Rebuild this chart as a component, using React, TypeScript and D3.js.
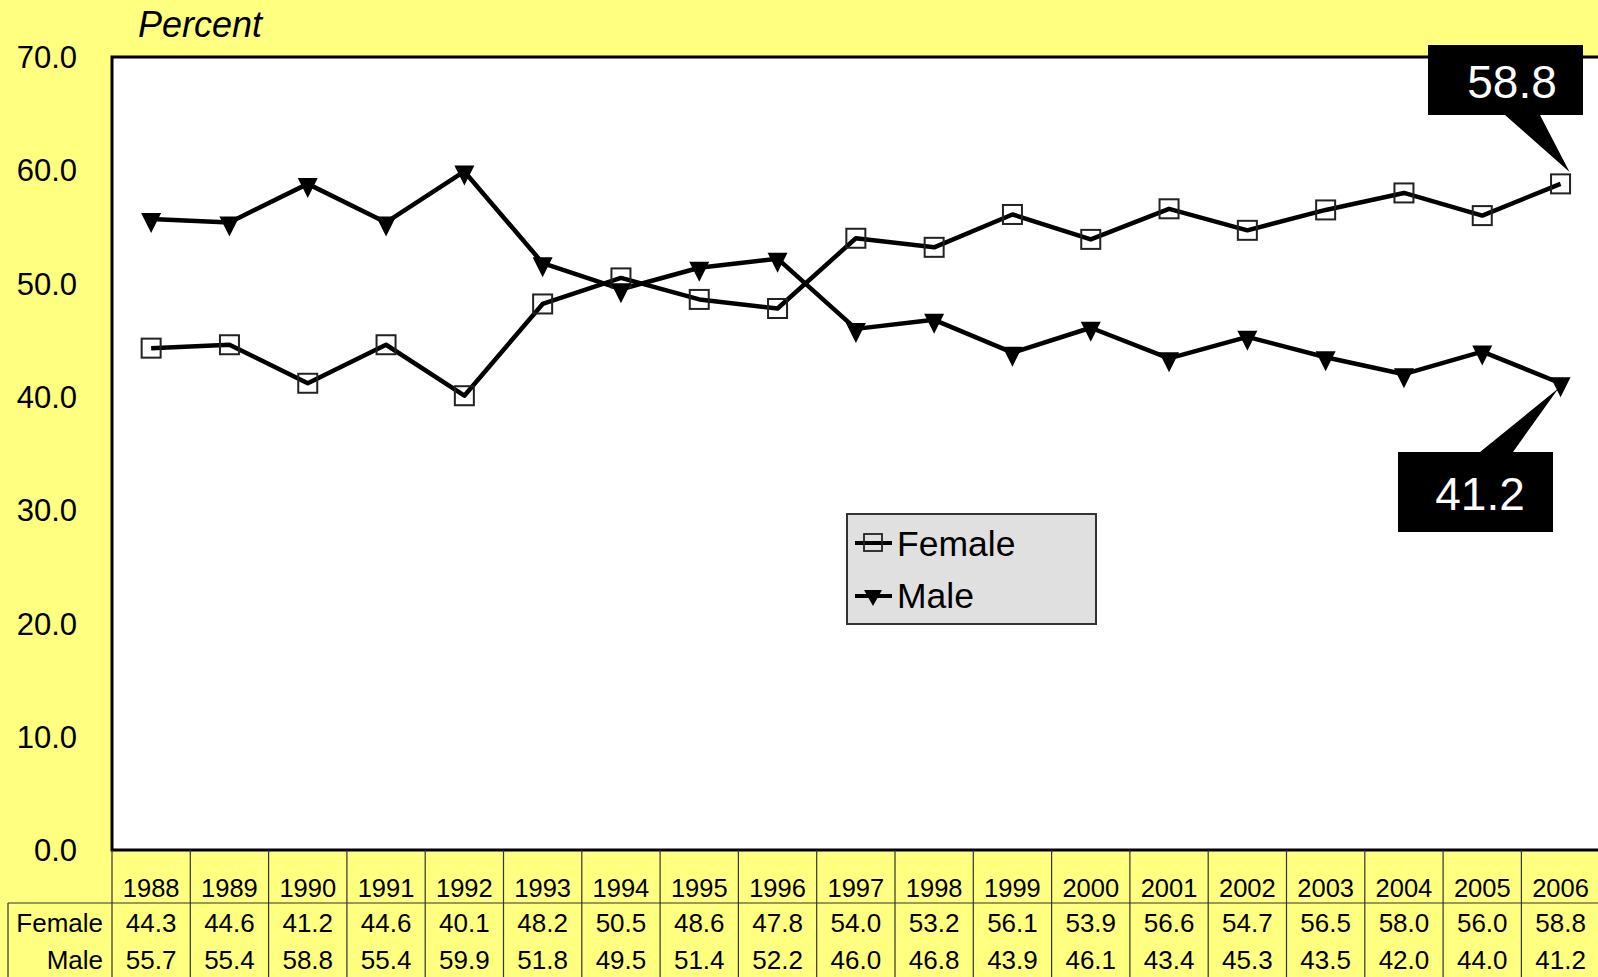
import React from "react";
import * as d3 from "d3";

const years = ["1988","1989","1990","1991","1992","1993","1994","1995","1996","1997","1998","1999","2000","2001","2002","2003","2004","2005","2006"];
const female = [44.3,44.6,41.2,44.6,40.1,48.2,50.5,48.6,47.8,54.0,53.2,56.1,53.9,56.6,54.7,56.5,58.0,56.0,58.8];
const male = [55.7,55.4,58.8,55.4,59.9,51.8,49.5,51.4,52.2,46.0,46.8,43.9,46.1,43.4,45.3,43.5,42.0,44.0,41.2];
const yTicks = [0,10,20,30,40,50,60,70];
const seriesNames = ["Female","Male"];

const W = 1598, H = 977;
const left = 112, top = 57, bottom = 850;
const colW = 78.3;
const FONT = "'Liberation Sans', Arial, sans-serif";
const BG = "#ffff80";

export default function App() {
  const x = d3.scaleBand<string>().domain(years).range([left, left + colW * years.length]);
  const y = d3.scaleLinear().domain([0, 70]).range([bottom, top]);
  const cx = (i: number) => (x(years[i]) as number) + x.bandwidth() / 2;
  const line = d3.line<number>().x((_, i) => cx(i)).y(d => y(d));

  const last = years.length - 1;
  const fx = cx(last), fy = y(female[last]);
  const mx = cx(last), my = y(male[last]);

  const tri = (px: number, py: number) =>
    `M${px - 10},${py - 6}L${px + 10},${py - 6}L${px},${py + 14}Z`;

  const rowTop = 903;
  return (
    <svg width={W} height={H} style={{ position: "absolute", left: 0, top: 0, background: BG }} fontFamily={FONT}>
      <rect x={0} y={0} width={W} height={H} fill={BG} />
      <text x={138} y={37} fontSize={36} fontStyle="italic">Percent</text>
      {/* plot area */}
      <rect x={left} y={top} width={W + 20 - left} height={bottom - top} fill="#fff" stroke="#000" strokeWidth={3} />
      {yTicks.map(t => (
        <text key={t} x={77} y={y(t)} dy="0.36em" textAnchor="end" fontSize={31}>{t.toFixed(1)}</text>
      ))}
      {/* lines */}
      <path d={line(female) || ""} fill="none" stroke="#000" strokeWidth={4.5} strokeLinejoin="round" />
      <path d={line(male) || ""} fill="none" stroke="#000" strokeWidth={4.5} strokeLinejoin="round" />
      {female.map((v, i) => (
        <rect key={"f" + i} x={cx(i) - 9.5} y={y(v) - 9.5} width={19} height={19} fill="none" stroke="#222" strokeWidth={2} />
      ))}
      {male.map((v, i) => (
        <path key={"m" + i} d={tri(cx(i), y(v))} fill="#000" />
      ))}
      {/* legend */}
      <rect x={847} y={514} width={249} height={110} fill="#e0e0e0" stroke="#333" strokeWidth={2} />
      <line x1={855} x2={892} y1={543} y2={543} stroke="#000" strokeWidth={4} />
      <rect x={864} y={534} width={18} height={17} fill="none" stroke="#222" strokeWidth={1.8} />
      <text x={897} y={556} fontSize={35.5}>{seriesNames[0]}</text>
      <line x1={855} x2={892} y1={596} y2={596} stroke="#000" strokeWidth={4} />
      <path d={`M${864},${590}L${882},${590}L${873},${606}Z`} fill="#000" />
      <text x={897} y={608} fontSize={35.5}>{seriesNames[1]}</text>
      {/* callouts */}
      <path d={`M1428,45L1583,45L1583,115L1540,115L${fx + 9},${fy - 12}L1505,115L1428,115Z`} fill="#000" />
      <text x={1512} y={98} fontSize={46} fill="#fff" textAnchor="middle">{female[last].toFixed(1)}</text>
      <path d={`M1398,452L1480,452L${mx - 2},${my + 5}L1513,452L1553,452L1553,532L1398,532Z`} fill="#000" />
      <text x={1480} y={510} fontSize={46} fill="#fff" textAnchor="middle">{male[last].toFixed(1)}</text>
      {/* data table */}
      <line x1={8} x2={W} y1={rowTop} y2={rowTop} stroke="#333" strokeWidth={1.2} />
      <line x1={8} x2={8} y1={rowTop} y2={H} stroke="#333" strokeWidth={1.2} />
      {years.map((yr, i) => (
        <line key={"v" + i} x1={(x(yr) as number)} x2={(x(yr) as number)} y1={bottom} y2={H} stroke="#333" strokeWidth={1.2} />
      ))}
      {years.map((yr, i) => (
        <g key={"c" + i}>
          <text x={cx(i)} y={897} fontSize={25.5} textAnchor="middle">{yr}</text>
          <text x={cx(i)} y={932} fontSize={26} textAnchor="middle">{female[i].toFixed(1)}</text>
          <text x={cx(i)} y={969} fontSize={26} textAnchor="middle">{male[i].toFixed(1)}</text>
        </g>
      ))}
      <text x={103} y={932} fontSize={26} textAnchor="end">{seriesNames[0]}</text>
      <text x={103} y={969} fontSize={26} textAnchor="end">{seriesNames[1]}</text>
    </svg>
  );
}
